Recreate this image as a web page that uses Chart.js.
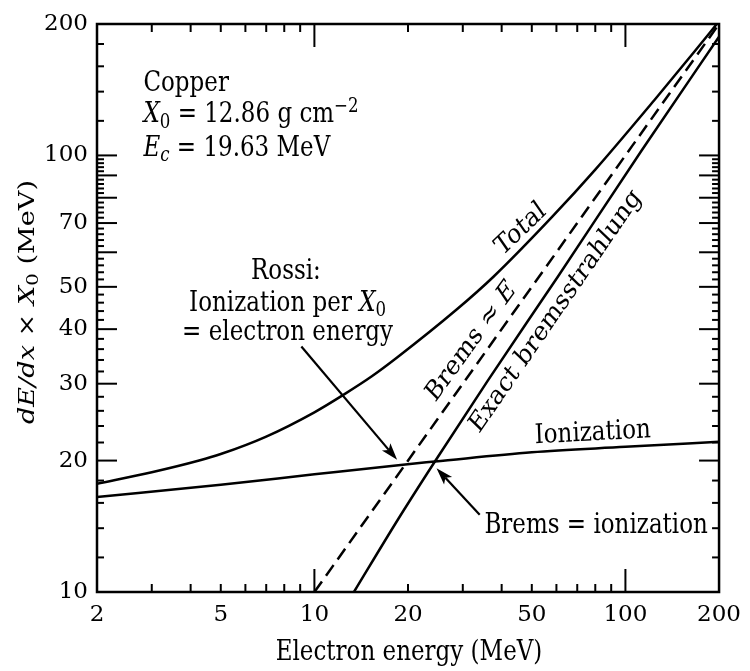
<!DOCTYPE html>
<html><head><meta charset="utf-8">
<script src="https://cdn.jsdelivr.net/npm/chart.js@4/dist/chart.umd.min.js"></script>
<style>html,body{margin:0;padding:0;background:#fff;}#wrap{width:750px;height:671px;}</style>
</head><body><div id="wrap"><canvas id="c" width="750" height="671"></canvas></div>
<script>
const FONT = '"DejaVu Serif", serif';
const FS = 23;
const STRETCH = 1.18; // glyphs in the figure are taller than wide

// tick labels / tick marks
const xTickLabels = [2, 5, 10, 20, 50, 100, 200];
const yTickLabels = [10, 20, 30, 40, 50, 70, 100, 200];
const xMajorTicks = [10, 100];
const xMinorTicks = [3, 4, 5, 6, 7, 8, 9, 20, 30, 40, 50, 60, 70, 80, 90];
const yMajorTicks = [20, 30, 40, 50, 60, 70, 80, 90, 100];
const yMinorTicks = [12, 14, 16, 18, 22, 24, 26, 28, 32, 34, 36, 38, 42, 44, 46, 48, 52, 54, 56, 58,
  62, 64, 66, 68, 72, 74, 76, 78, 82, 84, 86, 88, 92, 94, 96, 98, 120, 140, 160, 180];

// series (electron energy in MeV, dE/dx * X0 in MeV)
const ionEnergy = [2, 5, 10, 19.6, 24.4, 50, 100, 200];
const ionValues = [16.5, 17.6, 18.6, 19.6, 19.9, 20.9, 21.5, 22.1];
const totalEnergy = [2, 3, 4.26, 5, 7, 10, 12.5, 15.3, 18.4, 28.6, 37.5, 58.2, 80, 124, 166.5, 200];
const totalValues = [17.7, 18.8, 20.0, 20.7, 22.7, 25.8, 28.4, 31.2, 34.4, 44.3, 52.6, 72.4, 92.8, 134, 172.7, 203];
const bremsEnergy = [13.4, 18.5, 24.4, 36.1, 61, 112.6, 200];
const bremsValues = [10, 14.6, 19.9, 30.5, 53.1, 102.5, 187];
const rossiEnergy = [10, 200];
const rossiValues = [10, 200];

const pts = (xs, ys) => xs.map((x, i) => ({x, y: ys[i]}));

// annotations anchored in data coordinates (rot = angle on the page, degrees)
const texts = [
  {E: 2.82, v: 146, align: 'left', rot: 0, segs: [{t: 'Copper'}]},
  {E: 2.82, v: 123.5, align: 'left', rot: 0, segs: [{t: 'X', it: 1}, {t: '0', sub: 1}, {t: ' = 12.86 g cm'}, {t: '\u22122', sup: 1}]},
  {E: 2.82, v: 103.5, align: 'left', rot: 0, segs: [{t: 'E', it: 1}, {t: 'c', it: 1, sub: 1}, {t: ' = 19.63 MeV'}]},
  {E: 8.1, v: 54.0, align: 'center', rot: 0, segs: [{t: 'Rossi:'}]},
  {E: 8.2, v: 45.8, align: 'center', rot: 0, segs: [{t: 'Ionization per '}, {t: 'X', it: 1}, {t: '0', sub: 1}]},
  {E: 8.2, v: 39.2, align: 'center', rot: 0, segs: [{t: '= electron energy'}]},
  {E: 35.2, v: 14.2, align: 'left', rot: 0, segs: [{t: 'Brems = ionization'}]},
  {E: 78.5, v: 23.1, align: 'center', rot: -3, segs: [{t: 'Ionization'}]},
  {E: 46.1, v: 67.7, align: 'center', rot: -44, segs: [{t: 'Total'}]},
  {E: 32.0, v: 37.4, align: 'center', rot: -54.2, segs: [{t: 'Brems \u2248 '}, {t: 'E', it: 1}]},
  {E: 59.7, v: 43.9, align: 'center', rot: -55.5, segs: [{t: 'Exact bremsstrahlung'}]}
];
const arrows = [
  {E0: 9.08, v0: 36.5, E1: 18.45, v1: 20.08},
  {E0: 34.0, v0: 15.02, E1: 24.7, v1: 19.2}
];

function segFont(s) {
  const size = s.sub || s.sup ? FS * 0.72 : FS;
  return (s.it ? 'italic ' : '') + size.toFixed(1) + 'px ' + FONT;
}
function drawRich(ctx, segs, x, y, align, rotDeg) {
  ctx.save();
  ctx.translate(x, y);
  ctx.scale(1, STRETCH);
  const th = (rotDeg || 0) * Math.PI / 180;
  ctx.rotate(Math.atan2(Math.sin(th) / STRETCH, Math.cos(th)));
  let w = 0;
  for (const s of segs) { ctx.font = segFont(s); w += ctx.measureText(s.t).width; }
  let cx = align === 'center' ? -w / 2 : (align === 'right' ? -w : 0);
  ctx.textBaseline = 'middle';
  ctx.textAlign = 'left';
  ctx.fillStyle = '#000';
  for (const s of segs) {
    ctx.font = segFont(s);
    const dy = s.sub ? 6 : (s.sup ? -7 : 0);
    ctx.fillText(s.t, cx, dy);
    cx += ctx.measureText(s.t).width;
  }
  ctx.restore();
}

const decor = {
  id: 'decor',
  afterDraw(chart) {
    const ctx = chart.ctx, xs = chart.scales.x, ys = chart.scales.y, a = chart.chartArea;
    ctx.save();
    ctx.strokeStyle = '#000';
    ctx.lineCap = 'butt';
    // frame
    ctx.lineWidth = 2.5;
    ctx.strokeRect(a.left, a.top, a.right - a.left, a.bottom - a.top);
    // ticks (inward, all four sides)
    ctx.lineWidth = 2;
    const seg = (x1, y1, x2, y2) => { ctx.beginPath(); ctx.moveTo(x1, y1); ctx.lineTo(x2, y2); ctx.stroke(); };
    const xt = (list, len) => list.forEach(v => {
      const p = xs.getPixelForValue(v);
      seg(p, a.bottom, p, a.bottom - len);
      seg(p, a.top, p, a.top + len);
    });
    const yt = (list, len) => list.forEach(v => {
      const p = ys.getPixelForValue(v);
      seg(a.left, p, a.left + len, p);
      seg(a.right, p, a.right - len, p);
    });
    xt(xMajorTicks, 23); xt(xMinorTicks, 8);
    yt(yMajorTicks, 20); yt(yMinorTicks, 7);
    // arrows
    ctx.fillStyle = '#000';
    ctx.lineWidth = 2.2;
    arrows.forEach(ar => {
      const x0 = xs.getPixelForValue(ar.E0), y0 = ys.getPixelForValue(ar.v0);
      const x1 = xs.getPixelForValue(ar.E1), y1 = ys.getPixelForValue(ar.v1);
      const ang = Math.atan2(y1 - y0, x1 - x0);
      const c = Math.cos(ang), s = Math.sin(ang);
      const L = 17, W = 5.5;
      const bx = x1 - L * c, by = y1 - L * s;
      seg(x0, y0, bx + 4 * c, by + 4 * s);
      ctx.beginPath();
      ctx.moveTo(x1, y1);
      ctx.lineTo(bx + W * s, by - W * c);
      ctx.lineTo(bx + 4 * c, by + 4 * s);
      ctx.lineTo(bx - W * s, by + W * c);
      ctx.closePath();
      ctx.fill();
    });
    // annotation texts
    texts.forEach(t => drawRich(ctx, t.segs, xs.getPixelForValue(t.E), ys.getPixelForValue(t.v), t.align, t.rot));
    // axis titles
    drawRich(ctx, [{t: 'Electron energy (MeV)'}], (a.left + a.right) / 2 + 1, 653, 'center', 0);
    drawRich(ctx, [{t: 'dE/dx', it: 1}, {t: ' \u00d7 '}, {t: 'X', it: 1}, {t: '0', sub: 1}, {t: ' (MeV)'}], 28, 302, 'center', -90);
    ctx.restore();
  }
};

const lineStyle = {borderColor: '#000', borderWidth: 2.5, pointRadius: 0, fill: false, cubicInterpolationMode: 'monotone'};

new Chart(document.getElementById('c'), {
  type: 'line',
  data: {
    datasets: [
      Object.assign({label: 'Ionization', data: pts(ionEnergy, ionValues)}, lineStyle),
      Object.assign({label: 'Total', data: pts(totalEnergy, totalValues)}, lineStyle),
      Object.assign({label: 'Exact bremsstrahlung', data: pts(bremsEnergy, bremsValues)}, lineStyle),
      Object.assign({label: 'Brems \u2248 E', data: pts(rossiEnergy, rossiValues), borderDash: [13, 7]}, lineStyle)
    ]
  },
  options: {
    responsive: false,
    devicePixelRatio: 1,
    animation: false,
    layout: {padding: {top: 24, right: 25, left: 0, bottom: 0}},
    plugins: {legend: {display: false}, tooltip: {enabled: false}},
    scales: {
      x: {
        type: 'logarithmic', min: 2, max: 200, position: 'bottom',
        grid: {display: false, drawTicks: false}, border: {display: false},
        ticks: {color: '#000', font: {family: FONT, size: FS}, padding: 9, autoSkip: false, maxRotation: 0,
          callback: v => String(v)},
        afterBuildTicks: s => { s.ticks = xTickLabels.map(v => ({value: v})); },
        afterFit: s => { s.height = 79; }
      },
      y: {
        type: 'logarithmic', min: 10, max: 200, position: 'left',
        grid: {display: false, drawTicks: false}, border: {display: false},
        ticks: {color: '#000', font: {family: FONT, size: FS}, padding: 9, autoSkip: false,
          callback: v => String(v)},
        afterBuildTicks: s => { s.ticks = yTickLabels.map(v => ({value: v})); },
        afterFit: s => { s.width = 97; }
      }
    }
  },
  plugins: [decor]
});
</script></body></html>
